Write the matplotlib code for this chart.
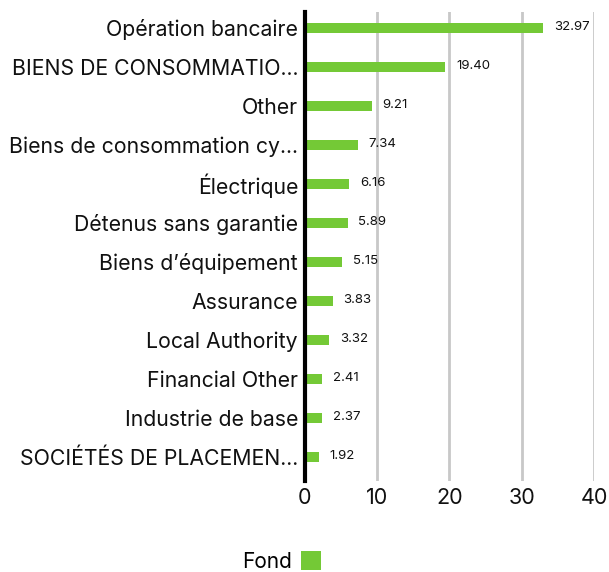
import matplotlib
matplotlib.use("Agg")
import matplotlib.pyplot as plt
from matplotlib.patches import Patch

categories = [
    "Opération bancaire",
    "BIENS DE CONSOMMATIO...",
    "Other",
    "Biens de consommation cy...",
    "Électrique",
    "Détenus sans garantie",
    "Biens d\u2019équipement",
    "Assurance",
    "Local Authority",
    "Financial Other",
    "Industrie de base",
    "SOCIÉTÉS DE PLACEMEN...",
]
values = [32.97, 19.40, 9.21, 7.34, 6.16, 5.89, 5.15, 3.83, 3.32, 2.41, 2.37, 1.92]
xticks = [0, 10, 20, 30, 40]
series_name = "Fond"
bar_color = "#74C936"

plt.rcParams["font.family"] = ["Inter", "DejaVu Sans"]

fig = plt.figure(figsize=(6.09, 5.72), dpi=100)
ax = fig.add_axes([0.5008, 0.159, 0.4745, 0.82])

ypos = list(range(len(categories)))
ax.barh(ypos, values, height=0.26, color=bar_color, zorder=3)
for y, v in zip(ypos, values):
    ax.text(v + 1.5, y - 0.03, f"{v:.2f}", va="center", ha="left", fontsize=9.5, color="#111111")

ax.set_xlim(0, 40)
ax.set_ylim(len(categories) - 1 + 0.62, -0.41)
ax.set_yticks(ypos)
ax.set_yticklabels(categories, fontsize=15.3, color="#111111")
ax.set_xticks(xticks)
ax.set_xticklabels([str(t) for t in xticks], fontsize=15.5, color="#111111")
ax.tick_params(axis="both", length=0, pad=5)

ax.grid(axis="x", color="#c8c8c8", linewidth=2, zorder=0)
ax.grid(axis="y", visible=False)
for s in ["top", "right", "bottom"]:
    ax.spines[s].set_visible(False)
ax.spines["left"].set_linewidth(3)
ax.spines["left"].set_color("black")
ax.spines["left"].set_zorder(4)

handle = Patch(facecolor=bar_color, edgecolor="none")
fig.legend([handle], [series_name], loc="lower center", bbox_to_anchor=(0.463, -0.032),
           frameon=False, fontsize=15, markerfirst=False, handlelength=1.0,
           handleheight=1.0, handletextpad=0.4)

fig.savefig("out.png", dpi=100)
